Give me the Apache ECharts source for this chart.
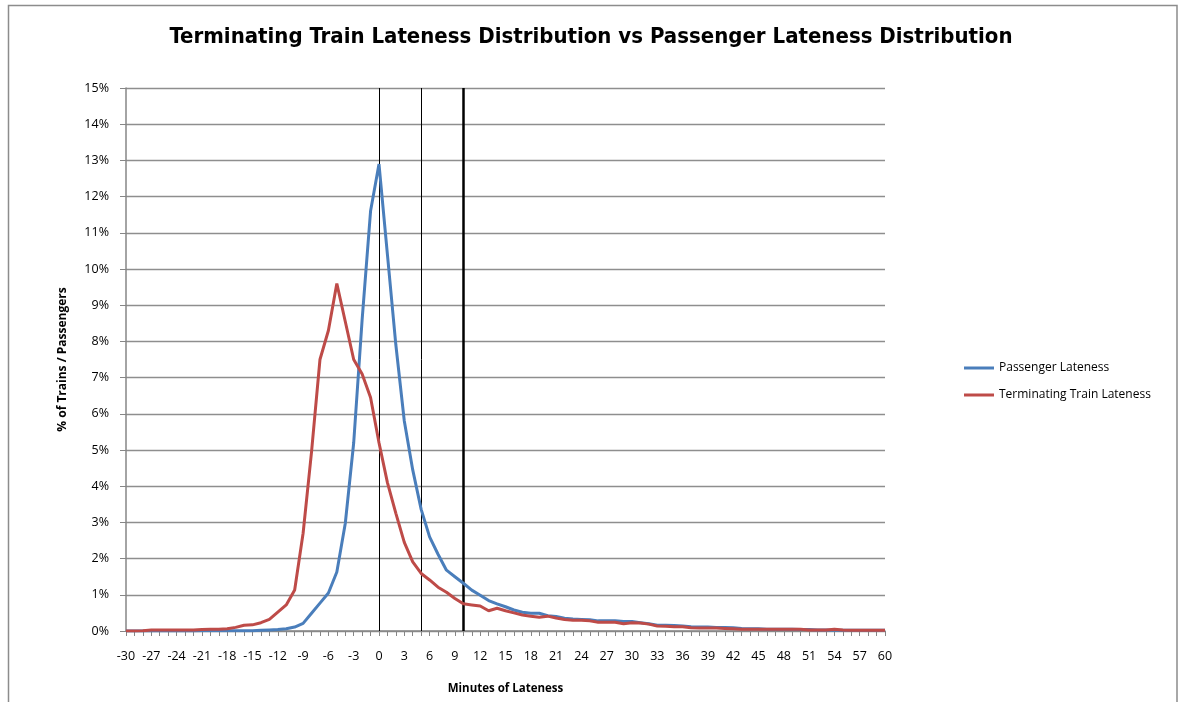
<!DOCTYPE html>
<html>
<head>
<meta charset="utf-8">
<script src="https://cdn.jsdelivr.net/npm/echarts@6/dist/echarts.min.js"></script>
<style>
  html, body { margin: 0; padding: 0; background: #fff; }
  #chart { width: 1182px; height: 702px; }
</style>
</head>
<body>
<div id="chart"></div>
<script>
// Minutes of lateness, -30 .. 60
const minutes = [];
for (let m = -30; m <= 60; m++) minutes.push(String(m));

// % of passengers arriving at each minute of lateness
const passengerLateness = [
  0, 0, 0, 0, 0, 0, 0, 0, 0, 0.01,
  0.01, 0.01, 0.01, 0.01, 0.01, 0.01, 0.02, 0.03, 0.04, 0.06,
  0.11, 0.21, 0.49, 0.77, 1.05, 1.63, 2.97, 5.2, 8.6, 11.6,
  12.9, 10.4, 7.9, 5.8, 4.45, 3.36, 2.6, 2.12, 1.68, 1.5,
  1.32, 1.13, 0.99, 0.84, 0.75, 0.67, 0.58, 0.52, 0.49, 0.49,
  0.42, 0.4, 0.35, 0.33, 0.32, 0.31, 0.28, 0.28, 0.28, 0.26,
  0.26, 0.23, 0.2, 0.16, 0.16, 0.15, 0.14, 0.12, 0.11, 0.11,
  0.1, 0.1, 0.09, 0.07, 0.06, 0.06, 0.05, 0.05, 0.05, 0.05,
  0.04, 0.04, 0.03, 0.03, 0.02, 0.02, 0.02, 0.02, 0.02, 0.02,
  0.02
];

// % of terminating trains at each minute of lateness
const trainLateness = [
  0, 0, 0.01, 0.03, 0.03, 0.03, 0.03, 0.03, 0.03, 0.04,
  0.05, 0.05, 0.06, 0.1, 0.16, 0.17, 0.23, 0.32, 0.52, 0.72,
  1.13, 2.7, 4.95, 7.5, 8.3, 9.6, 8.55, 7.5, 7.1, 6.45,
  5.2, 4.1, 3.25, 2.45, 1.91, 1.59, 1.41, 1.21, 1.07, 0.9,
  0.75, 0.72, 0.69, 0.56, 0.63, 0.56, 0.5, 0.44, 0.41, 0.38,
  0.41, 0.36, 0.32, 0.3, 0.3, 0.28, 0.24, 0.24, 0.24, 0.2,
  0.23, 0.22, 0.19, 0.14, 0.13, 0.12, 0.12, 0.09, 0.08, 0.08,
  0.08, 0.07, 0.06, 0.05, 0.05, 0.05, 0.05, 0.05, 0.05, 0.05,
  0.05, 0.03, 0.03, 0.03, 0.05, 0.03, 0.02, 0.02, 0.02, 0.02,
  0.02
];

// Reference minutes marked with vertical lines
const markerMinutes = ['0', '5', '10'];
const markerWidths = [1, 1, 2.5];

const TITLE_FONT = '"DejaVu Sans Condensed", "Liberation Sans Narrow", Arial, sans-serif';
const LABEL_FONT = '"Open Sans", "Noto Sans", sans-serif';
const AXIS_GRAY = '#868686';

const chart = echarts.init(document.getElementById('chart'), null, { renderer: 'canvas' });

chart.setOption({
  backgroundColor: '#ffffff',
  animation: false,
  graphic: [{
    type: 'rect',
    shape: { x: 8.5, y: 5.5, width: 1168.5, height: 720 },
    style: { fill: 'none', stroke: '#8c8c8c', lineWidth: 1.5 },
    silent: true
  }],
  title: {
    text: 'Terminating Train Lateness Distribution vs Passenger Lateness Distribution',
    left: 'center',
    top: 21,
    textStyle: { fontFamily: TITLE_FONT, fontWeight: 'bold', fontSize: 22, color: '#000' }
  },
  legend: {
    orient: 'vertical',
    left: 959,
    top: 355,
    itemWidth: 30,
    itemHeight: 3,
    itemGap: 11,
    icon: 'rect',
    textStyle: { fontFamily: LABEL_FONT, fontSize: 12, color: '#000', lineHeight: 16 },
    data: ['Passenger Lateness', 'Terminating Train Lateness']
  },
  grid: { left: 126, right: 297, top: 88, bottom: 71, containLabel: false },
  xAxis: {
    type: 'category',
    data: minutes,
    boundaryGap: false,
    name: 'Minutes of Lateness',
    nameLocation: 'middle',
    nameGap: 52,
    nameTextStyle: { fontFamily: LABEL_FONT, fontWeight: 'bold', fontSize: 11.5, color: '#000' },
    axisLine: { lineStyle: { color: AXIS_GRAY, width: 1.5 } },
    axisTick: { show: true, interval: 0, length: 5, lineStyle: { color: AXIS_GRAY } },
    axisLabel: { interval: 2, margin: 19, fontFamily: LABEL_FONT, fontSize: 12.5, color: '#000' },
    splitLine: { show: false }
  },
  yAxis: {
    type: 'value',
    min: 0,
    max: 15,
    interval: 1,
    name: '% of Trains / Passengers',
    nameLocation: 'middle',
    nameGap: 57,
    nameTextStyle: { fontFamily: LABEL_FONT, fontWeight: 'bold', fontSize: 12, color: '#000' },
    axisLine: { show: true, lineStyle: { color: AXIS_GRAY, width: 1.5 } },
    axisTick: { show: true, length: 6, lineStyle: { color: AXIS_GRAY } },
    axisLabel: { formatter: '{value}%', margin: 17, fontFamily: LABEL_FONT, fontSize: 12.5, color: '#000' },
    splitLine: { show: true, lineStyle: { color: '#8e8e8e', width: 1.3 } }
  },
  series: [
    {
      name: 'Passenger Lateness',
      type: 'line',
      data: passengerLateness,
      showSymbol: false,
      symbol: 'none',
      color: '#4A7EBB',
      lineStyle: { width: 3, color: '#4A7EBB' },
      z: 3,
      markLine: {
        silent: true,
        symbol: 'none',
        label: { show: false },
        z: 2,
        data: markerMinutes.map((m, i) => ({
          xAxis: m,
          lineStyle: { color: '#000', type: 'solid', width: markerWidths[i] }
        }))
      }
    },
    {
      name: 'Terminating Train Lateness',
      type: 'line',
      data: trainLateness,
      showSymbol: false,
      symbol: 'none',
      color: '#BE4B48',
      lineStyle: { width: 3, color: '#BE4B48' },
      z: 4
    }
  ]
});
</script>
</body>
</html>
